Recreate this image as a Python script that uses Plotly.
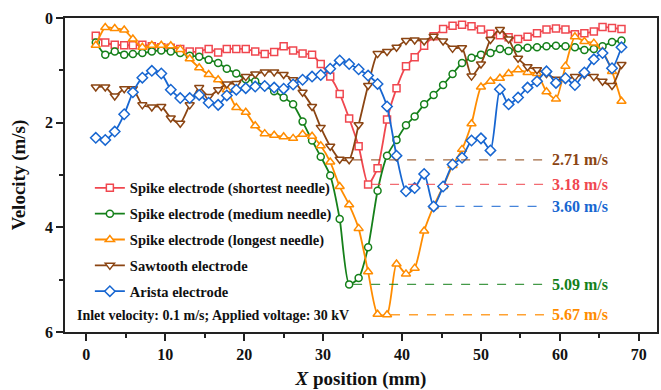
import plotly.graph_objects as go

# ---------------- data ----------------
x_mm = [1.2, 2.4, 3.6, 4.8, 5.9, 7.1, 8.3, 9.5, 10.7, 11.9, 13.1, 14.3, 15.5, 16.7, 17.8,
        19.0, 20.2, 21.4, 22.6, 23.8, 25.0, 26.2, 27.4, 28.6, 29.7, 30.9, 32.1, 33.3, 34.5,
        35.7, 36.9, 38.1, 39.3, 40.5, 41.6, 42.8, 44.0, 45.2, 46.4, 47.6, 48.8, 50.0, 51.2,
        52.4, 53.5, 54.7, 55.9, 57.1, 58.3, 59.5, 60.7, 61.9, 63.1, 64.3, 65.4, 66.6, 67.8]

v_shortest = [0.34, 0.47, 0.51, 0.52, 0.52, 0.51, 0.54, 0.56, 0.57, 0.59, 0.64, 0.64, 0.59, 0.66,
              0.59, 0.59, 0.59, 0.64, 0.69, 0.65, 0.54, 0.62, 0.68, 0.70, 0.88, 1.12, 1.45, 1.92,
              2.45, 3.18, 2.87, 1.94, 1.34, 0.92, 0.75, 0.53, 0.35, 0.21, 0.15, 0.13, 0.16, 0.22,
              0.30, 0.33, 0.37, 0.40, 0.36, 0.29, 0.22, 0.20, 0.22, 0.31, 0.29, 0.26, 0.17, 0.19,
              0.21]

v_medium = [0.47, 0.70, 0.64, 0.70, 0.69, 0.67, 0.64, 0.62, 0.64, 0.67, 0.72, 0.74, 0.80, 0.86,
            0.97, 1.06, 1.17, 1.21, 1.30, 1.40, 1.52, 1.65, 1.98, 2.34, 2.65, 3.01, 3.84, 5.09,
            4.97, 4.38, 3.30, 2.63, 2.33, 2.05, 1.88, 1.65, 1.47, 1.28, 1.07, 0.86, 0.76, 0.70,
            0.67, 0.59, 0.63, 0.58, 0.57, 0.56, 0.54, 0.53, 0.54, 0.56, 0.61, 0.59, 0.54, 0.46,
            0.43]

v_longest = [0.52, 0.18, 0.20, 0.23, 0.40, 0.56, 0.52, 0.52, 0.53, 0.60, 0.78, 0.95, 1.08, 1.18,
             1.37, 1.71, 1.80, 2.06, 2.21, 2.24, 2.27, 2.30, 2.22, 2.26, 2.44, 2.75, 3.22, 3.57,
             4.02, 4.85, 5.66, 5.67, 4.70, 4.89, 4.78, 4.07, 3.60, 3.22, 2.82, 2.51, 2.02, 1.32,
             1.21, 1.15, 1.06, 0.99, 1.04, 1.06, 1.41, 1.55, 0.92, 0.36, 0.45, 0.48, 0.64, 1.02,
             1.59]

v_sawtooth = [1.32, 1.32, 1.49, 1.35, 1.35, 1.66, 1.70, 1.69, 1.91, 2.01, 1.66, 1.33, 1.50, 1.37,
              1.26, 1.25, 1.12, 1.07, 1.03, 1.03, 1.08, 1.18, 1.42, 1.69, 2.09, 2.45, 2.70, 2.71,
              2.04, 1.29, 0.68, 0.64, 0.56, 0.43, 0.42, 0.44, 0.35, 0.44, 0.58, 0.57, 1.11, 0.88,
              0.41, 0.22, 0.40, 0.77, 0.93, 0.99, 1.06, 1.17, 1.17, 1.12, 1.08, 1.12, 1.21, 1.29,
              0.89]

v_arista = [2.29, 2.33, 2.17, 1.84, 1.42, 1.14, 1.01, 1.06, 1.37, 1.53, 1.53, 1.47, 1.62, 1.66,
            1.48, 1.37, 1.34, 1.31, 1.30, 1.33, 1.35, 1.27, 1.18, 1.12, 1.09, 0.97, 0.81, 0.88,
            0.98, 1.10, 1.26, 1.69, 2.63, 3.31, 3.25, 2.98, 3.60, 3.22, 2.80, 2.67, 2.34, 2.30,
            2.53, 1.36, 1.65, 1.52, 1.33, 1.21, 1.02, 1.24, 1.15, 1.28, 1.04, 0.79, 0.67, 0.96,
            0.56]

series_names = ["Spike electrode (shortest needle)", "Spike electrode (medium needle)",
                "Spike electrode (longest needle)", "Sawtooth electrode", "Arista electrode"]
series_values = [v_shortest, v_medium, v_longest, v_sawtooth, v_arista]

x_ticks = [0, 10, 20, 30, 40, 50, 60, 70]
x_minor = [5, 15, 25, 35, 45, 55, 65]
y_ticks = [0, 2, 4, 6]
y_minor = [1, 3, 5]
note_text = "Inlet velocity: 0.1 m/s; Applied voltage: 30 kV"
ref_line_end = 58.0
label_x = 58.7

# ---------------- styling ----------------
colors = ["#F0474F", "#15801A", "#FF8C00", "#8B4513", "#1766D1"]
symbols = ["square", "circle", "triangle-up", "triangle-down", "diamond"]
sizes = [7, 7, 8, 8, 8]
FONT = "Liberation Serif, Times New Roman, serif"

fig = go.Figure()
for i, (name, vals) in enumerate(zip(series_names, series_values)):
    fig.add_trace(go.Scatter(
        x=x_mm, y=vals, mode="lines+markers", name=f"<b>{name}</b>",
        legendgroup=f"g{i}",
        line=dict(color=colors[i], width=1.8, shape="spline", smoothing=0.6),
        marker=dict(symbol=symbols[i], size=sizes[i], color="white",
                    line=dict(color=colors[i], width=1.5)),
    ))

# peak-velocity reference lines and labels
for i, vals in enumerate(series_values):
    vmax = max(vals)
    idx = len(vals) - 1 - vals[::-1].index(vmax)
    fig.add_shape(type="line", xref="x", yref="y",
                  x0=x_mm[idx] + 0.5, x1=ref_line_end, y0=vmax, y1=vmax,
                  line=dict(color=colors[i], width=1.3, dash="dash"), opacity=0.8)
    fig.add_annotation(x=label_x, y=vmax, xref="x", yref="y", text=f"<b>{vmax:.2f} m/s</b>",
                       showarrow=False, xanchor="left", yanchor="middle",
                       font=dict(family=FONT, size=16, color=colors[i]))

fig.add_annotation(x=0.017, y=0.052, xref="paper", yref="paper", text=f"<b>{note_text}</b>",
                   showarrow=False, xanchor="left", yanchor="middle",
                   font=dict(family=FONT, size=14, color="#111"))

axis_common = dict(showline=True, mirror=True, linecolor="#222", linewidth=1.5,
                   showgrid=False, zeroline=False, ticks="outside", tickwidth=1.5,
                   ticklen=7, tickcolor="#222",
                   tickfont=dict(family=FONT, size=16, color="#111"))

fig.update_layout(
    width=661, height=390,
    margin=dict(l=65, r=2, t=18, b=58),
    paper_bgcolor="white", plot_bgcolor="white",
    font=dict(family=FONT, color="#111"),
    showlegend=True,
    legend=dict(x=0.042, y=0.51, xanchor="left", yanchor="top",
                bgcolor="rgba(0,0,0,0)", tracegroupgap=4,
                font=dict(family=FONT, size=14.5, color="#111")),
    xaxis=dict(range=[-2.7, 72.3], tickvals=x_ticks, ticktext=[f"<b>{t}</b>" for t in x_ticks],
               minor=dict(tickvals=x_minor, ticks="outside", ticklen=4, tickwidth=1.5,
                          tickcolor="#222"),
               title=dict(text="<b><i>X</i> position (mm)</b>", standoff=12,
                          font=dict(family=FONT, size=19, color="#111")),
               **axis_common),
    yaxis=dict(range=[6, 0], tickvals=y_ticks, ticktext=[f"<b>{t}</b>" for t in y_ticks],
               minor=dict(tickvals=y_minor, ticks="outside", ticklen=4, tickwidth=1.5,
                          tickcolor="#222"),
               title=dict(text="<b>Velocity (m/s)</b>", standoff=14,
                          font=dict(family=FONT, size=19, color="#111")),
               **axis_common),
)

fig.write_html("out.html", config={"displayModeBar": False},
               post_script="document.body.style.margin='0';document.body.style.overflow='hidden';")
